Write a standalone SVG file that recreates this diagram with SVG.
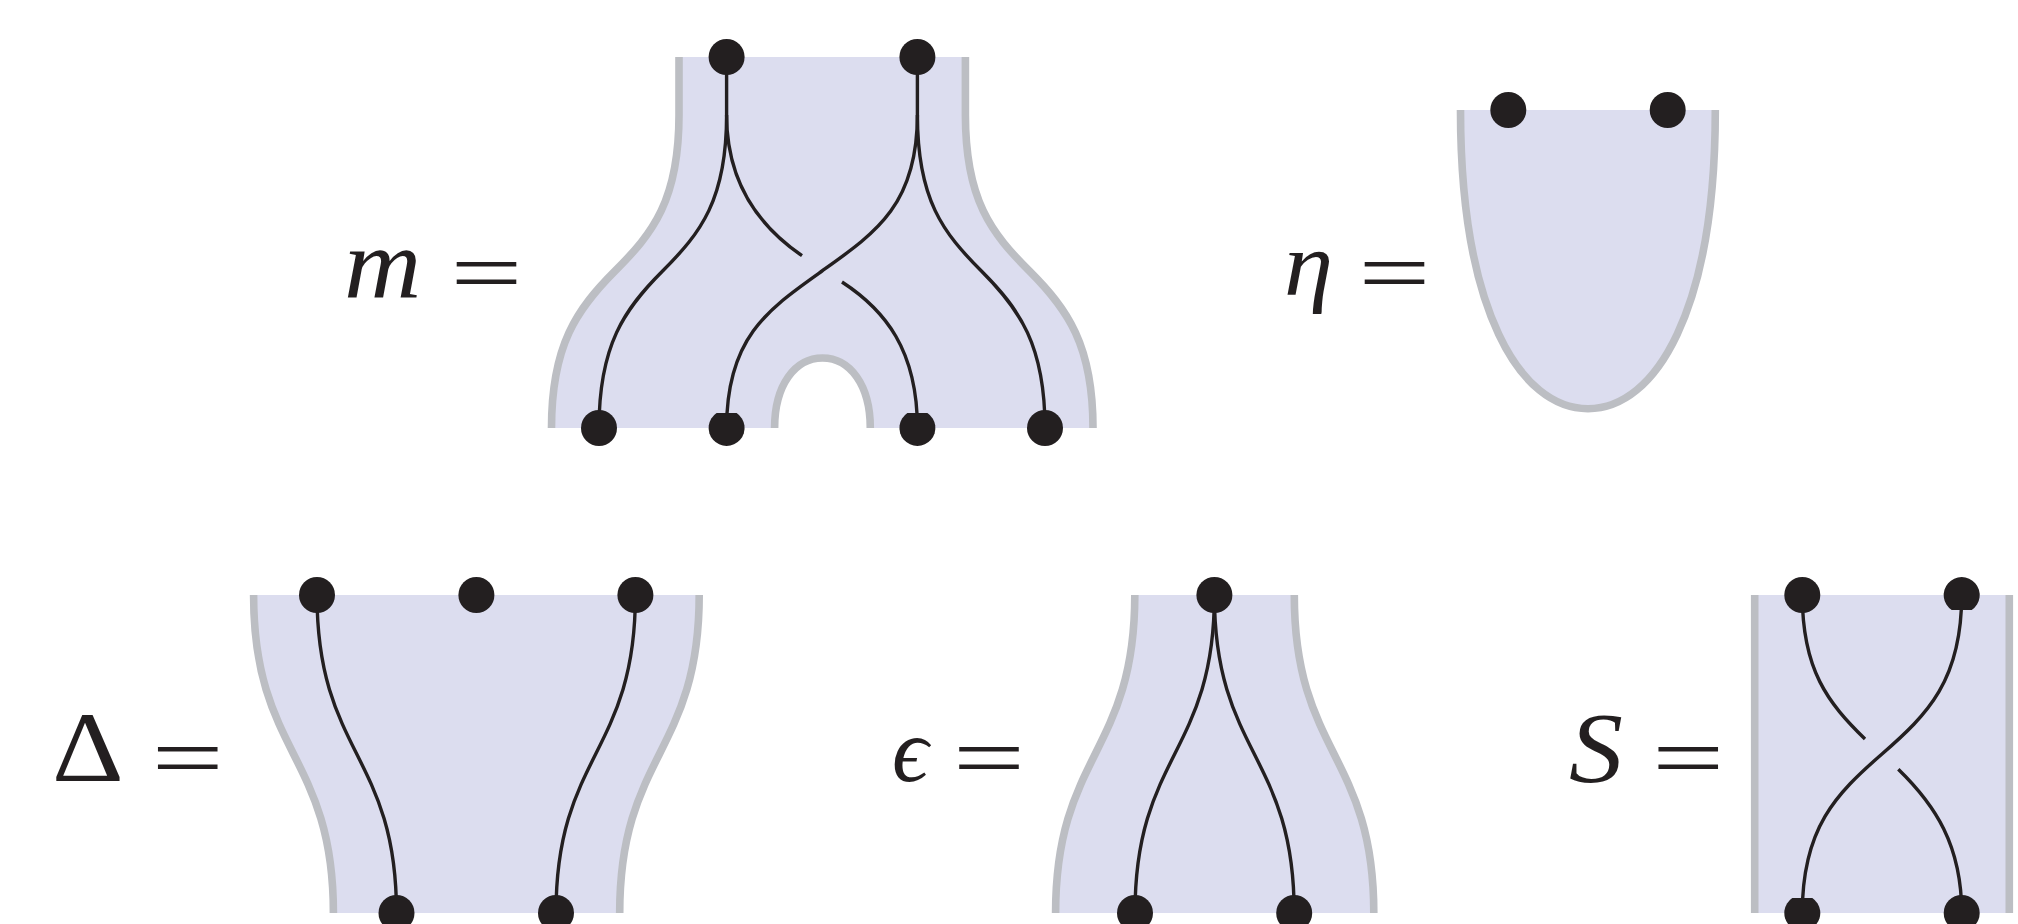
<svg xmlns="http://www.w3.org/2000/svg" width="2018" height="924" viewBox="0 0 2018 924">
<style>
.sheet{fill:#dcddef;stroke:none}
.edge{fill:none;stroke:#bcbec3;stroke-width:7.6}
.strand{fill:none;stroke:#231f20;stroke-width:3.4}
.dot{fill:#231f20}
.eq{font-family:Roboto,'Liberation Sans',sans-serif;font-weight:300;fill:#231f20;font-size:110px}
</style>
<defs>
<circle id="d" class="dot" r="18"/>
<path id="df" class="dot" d="M-10-15H10A18 18 0 1 1-10-15Z"/>
</defs>
<g id="sheets">
<path class="sheet" d="M679 57H965.400V115c0 85 26 118 64 156s63.600 74 63.600 157H870.300C870.300 385 850 358 822.500 358C795 358 774.600 385 774.600 428H551.500c0-83 25.500-119 63.500-157s64-71 64-156Z"/>
<path class="sheet" d="M1460.500 110C1460.500 310 1520 408.700 1588 408.700C1656 408.700 1715.300 310 1715.300 110Z"/>
<path class="sheet" d="M253.600 595H699.200C699.200 754 619.700 754 619.700 913H333.400C333.400 754 253.600 754 253.600 595Z"/>
<path class="sheet" d="M1134.800 595H1294.300C1294.300 754 1373.800 754 1373.800 913H1055.600C1055.600 754 1134.800 754 1134.800 595Z"/>
<path class="sheet" d="M1754.700 595H2009.300V913H1754.700Z"/>
</g>
<g id="edges">
<path class="edge" d="M679 57V115c0 85-26 118-64 156s-63.500 74-63.500 157"/>
<path class="edge" d="M965.400 57V115c0 85 26 118 64 156s63.600 74 63.600 157"/>
<path class="edge" d="M774.600 428C774.600 385 795 358 822.500 358C850 358 870.300 385 870.300 428"/>
<path class="edge" d="M1460.500 110C1460.500 310 1520 408.700 1588 408.700C1656 408.700 1715.300 310 1715.300 110"/>
<path class="edge" d="M253.600 595C253.600 754 333.400 754 333.400 913"/>
<path class="edge" d="M699.200 595C699.200 754 619.700 754 619.700 913"/>
<path class="edge" d="M1134.800 595C1134.800 754 1055.600 754 1055.600 913"/>
<path class="edge" d="M1294.300 595C1294.300 754 1373.800 754 1373.800 913"/>
<path class="edge" d="M1754.700 595V913"/>
<path class="edge" d="M2009.300 595V913"/>
</g>
<g id="connectors">
<path class="strand" d="M726.600 57V115c0 85-26 118-64 156s-63.600 74-63.600 157"/>
<path class="strand" d="M726.600 115C726.600 180 757 225 802 255.700"/>
<path class="strand" d="M842 282C885 310 917.400 350 917.400 428"/>
<path class="strand" d="M917.400 57V115c0 90-42 118-95.400 156s-95.400 66-95.400 157"/>
<path class="strand" d="M917.400 115c0 85 26 118 64 156s63.600 74 63.600 157"/>
<path class="strand" d="M317 595C317 754 396.500 754 396.500 913"/>
<path class="strand" d="M635.400 595C635.400 754 556 754 556 913"/>
<path class="strand" d="M1214.400 595C1214.400 754 1135 754 1135 913"/>
<path class="strand" d="M1214.400 595C1214.400 754 1294.200 754 1294.200 913"/>
<path class="strand" d="M1961.700 595c0 85-33.700 119-79.700 159s-79.700 74-79.700 159"/>
<path class="strand" d="M1802.300 595C1802.300 670 1828 703 1865 739"/>
<path class="strand" d="M1898.300 769.300C1935 805 1961.700 845 1961.700 913"/>
</g>
<g id="n-m1"><use href="#d" x="726.600" y="57"/></g>
<g id="n-m2"><use href="#d" x="917.400" y="57"/></g>
<g id="n-m3"><use href="#d" x="599" y="428"/></g>
<g id="n-m4"><use href="#df" x="726.600" y="428"/></g>
<g id="n-m5"><use href="#df" x="917.400" y="428"/></g>
<g id="n-m6"><use href="#d" x="1045" y="428"/></g>
<g id="n-e1"><use href="#d" x="1508.300" y="110"/></g>
<g id="n-e2"><use href="#d" x="1667.700" y="110"/></g>
<g id="n-D1"><use href="#d" x="317" y="595"/></g>
<g id="n-D2"><use href="#d" x="476.400" y="595"/></g>
<g id="n-D3"><use href="#d" x="635.400" y="595"/></g>
<g id="n-D4"><use href="#d" x="396.500" y="913"/></g>
<g id="n-D5"><use href="#d" x="556" y="913"/></g>
<g id="n-c1"><use href="#d" x="1214.400" y="595"/></g>
<g id="n-c2"><use href="#d" x="1135" y="913"/></g>
<g id="n-c3"><use href="#d" x="1294.200" y="913"/></g>
<g id="n-S1"><use href="#d" x="1802.300" y="595"/></g>
<g id="n-S2"><use href="#df" transform="translate(1961.700 595) rotate(180)"/></g>
<g id="n-S3"><use href="#df" x="1802.300" y="913"/></g>
<g id="n-S4"><use href="#d" x="1961.700" y="913"/></g>
<g id="labels" fill="#231f20">
<g font-family="Times New Roman, serif" font-style="italic" font-size="90">
<text transform="translate(344 297) scale(1.19 1.11)">m</text>
<text transform="translate(1284 295) scale(1.1 1)">η</text>
<text transform="translate(892 781)">ϵ</text>
<text transform="translate(1569 781) scale(1.2 1.11)">S</text>
</g>
<text font-family="Liberation Serif, serif" font-size="90" transform="translate(52 780.700) scale(1.24 1.11)">Δ</text>
<text class="eq" transform="translate(446 302) scale(1.33 .8)">=</text>
<text class="eq" transform="translate(1354 302) scale(1.33 .8)">=</text>
<text class="eq" transform="translate(147.300 786.500) scale(1.33 .8)">=</text>
<text class="eq" transform="translate(948.500 786.500) scale(1.33 .8)">=</text>
<text class="eq" transform="translate(1647.700 786.500) scale(1.33 .8)">=</text>
</g>
</svg>
